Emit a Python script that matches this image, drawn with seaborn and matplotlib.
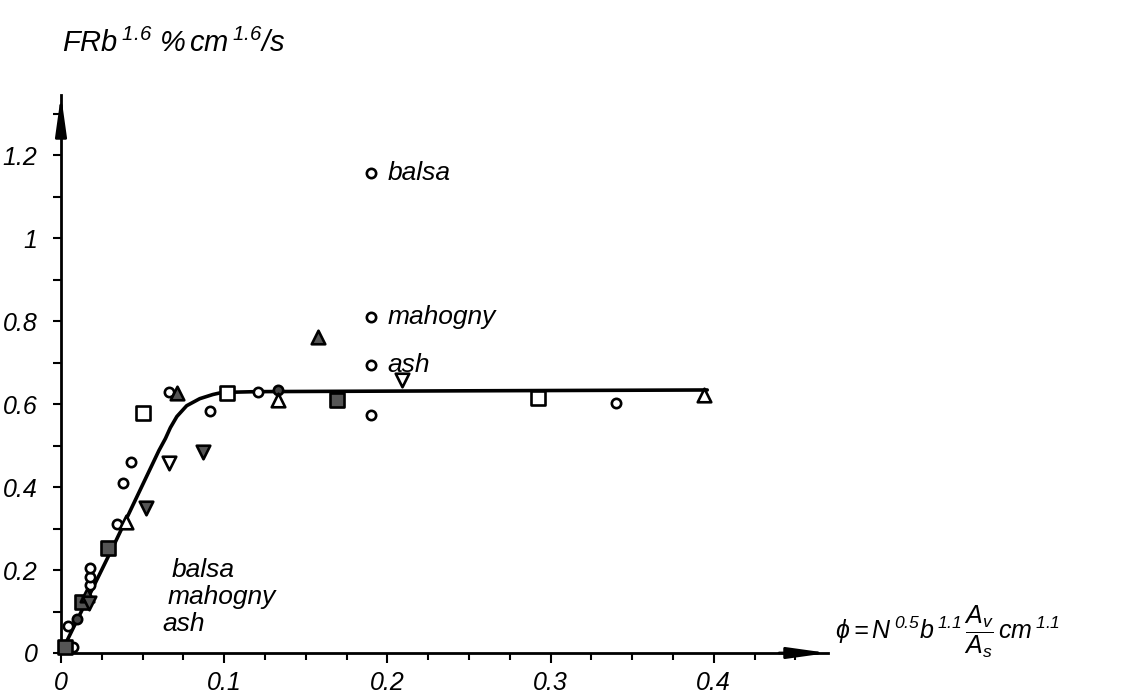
import numpy as np
import pandas as pd
import matplotlib
matplotlib.use("Agg")
import matplotlib.pyplot as plt
from matplotlib.patches import ArrowStyle
from matplotlib.ticker import MultipleLocator, FixedLocator
import seaborn as sns

# ---------------- data ----------------
open_circle_x = [0.0045, 0.0075, 0.018, 0.018, 0.018, 0.0345, 0.038, 0.043, 0.066,
                 0.091, 0.121, 0.19, 0.19, 0.19, 0.19, 0.34]
open_circle_y = [0.065, 0.015, 0.164, 0.183, 0.205, 0.312, 0.41, 0.461, 0.63,
                 0.583, 0.628, 1.158, 0.81, 0.694, 0.573, 0.602]
filled_circle_x = [0.0098, 0.133]
filled_circle_y = [0.082, 0.634]
open_square_x = [0.0505, 0.102, 0.292]
open_square_y = [0.578, 0.627, 0.614]
filled_square_x = [0.0025, 0.013, 0.029, 0.169]
filled_square_y = [0.015, 0.124, 0.252, 0.61]
open_tri_up_x = [0.040, 0.133, 0.394]
open_tri_up_y = [0.316, 0.61, 0.622]
filled_tri_up_x = [0.016, 0.071, 0.1576]
filled_tri_up_y = [0.14, 0.626, 0.761]
open_tri_down_x = [0.066, 0.209]
open_tri_down_y = [0.457, 0.658]
filled_tri_down_x = [0.017, 0.052, 0.087]
filled_tri_down_y = [0.12, 0.349, 0.485]

curve_x = [0.0, 0.033, 0.060, 0.064, 0.067, 0.071, 0.077, 0.085, 0.093, 0.0986, 0.12, 0.25, 0.396]
curve_y = [0.0, 0.265, 0.488, 0.517, 0.543, 0.570, 0.596, 0.613, 0.623, 0.628, 0.630, 0.632, 0.634]

x_ticks = [0, 0.1, 0.2, 0.3, 0.4]
x_tick_labels = ["0", "0.1", "0.2", "0.3", "0.4"]
y_ticks = [0, 0.2, 0.4, 0.6, 0.8, 1.0, 1.2]
y_tick_labels = ["0", "0.2", "0.4", "0.6", "0.8", "1", "1.2"]

point_labels = ["balsa", "mahogny", "ash"]
point_label_y = [1.158, 0.81, 0.694]
block_labels = ["balsa", "mahogny", "ash"]

# ---------------- styling ----------------
sns.set_theme(style="white")
plt.rcParams["font.family"] = ["Liberation Sans", "DejaVu Sans"]
plt.rcParams["mathtext.fontset"] = "custom"
plt.rcParams["mathtext.it"] = "Liberation Sans:italic"
plt.rcParams["mathtext.rm"] = "Liberation Sans:italic"
plt.rcParams["mathtext.bf"] = "Liberation Sans:bold"

W, H = 1129, 698
fig = plt.figure(figsize=(W / 100, H / 100), dpi=100)
ax = fig.add_axes([61 / W, 45 / H, (828 - 61) / W, (653 - 95) / H])
ax.set_xlim(0, 0.47)
ax.set_ylim(0, 1.345)

# curve
sns.lineplot(x=curve_x, y=curve_y, sort=False, color="black", linewidth=2.6, ax=ax,
             zorder=2)

groups = [
    (open_circle_x, open_circle_y, "o", "white", 45),
    (filled_circle_x, filled_circle_y, "o", "#444444", 45),
    (open_square_x, open_square_y, "s", "white", 115),
    (filled_square_x, filled_square_y, "s", "#555555", 105),
    (open_tri_up_x, open_tri_up_y, "^", "white", 95),
    (filled_tri_up_x, filled_tri_up_y, "^", "#555555", 95),
    (open_tri_down_x, open_tri_down_y, "v", "white", 95),
    (filled_tri_down_x, filled_tri_down_y, "v", "#555555", 95),
]
for gx, gy, m, fc, s in groups:
    df = pd.DataFrame({"x": gx, "y": gy})
    sns.scatterplot(data=df, x="x", y="y", marker=m, s=s, facecolor=fc,
                    edgecolor="black", linewidth=1.9, ax=ax, zorder=3, clip_on=False)

# axes
for sp in ["top", "right"]:
    ax.spines[sp].set_visible(False)
for sp in ["left", "bottom"]:
    ax.spines[sp].set_linewidth(2.0)
    ax.spines[sp].set_color("black")
ax.set_xlabel("")
ax.set_ylabel("")

ax.xaxis.set_major_locator(FixedLocator(x_ticks))
ax.set_xticklabels(x_tick_labels)
ax.xaxis.set_minor_locator(MultipleLocator(0.025))
ax.yaxis.set_major_locator(FixedLocator(y_ticks))
ax.set_yticklabels(y_tick_labels)
ax.yaxis.set_minor_locator(MultipleLocator(0.1))
ax.tick_params(axis="both", which="both", direction="out", color="black", width=1.5,
               bottom=True, left=True)
ax.tick_params(axis="x", which="major", length=7, pad=6)
ax.tick_params(axis="x", which="minor", length=5)
ax.tick_params(axis="y", which="major", length=6, pad=11)
ax.tick_params(axis="y", which="minor", length=6)
for lab in ax.get_xticklabels() + ax.get_yticklabels():
    lab.set_fontstyle("italic")
    lab.set_fontsize(18)
    lab.set_color("black")

# arrows at axis ends
arrow = ArrowStyle("-|>", head_length=2.0, head_width=0.28)
ax.annotate("", xy=(0.47, 0), xytext=(0.44, 0), xycoords="data",
            arrowprops=dict(arrowstyle=arrow, mutation_scale=12, color="black",
                            lw=2.0, shrinkA=0, shrinkB=0), annotation_clip=False)
ax.annotate("", xy=(0, 1.345), xytext=(0, 1.28), xycoords="data",
            arrowprops=dict(arrowstyle=arrow, mutation_scale=12, color="black",
                            lw=2.0, shrinkA=0, shrinkB=0), annotation_clip=False)

# point labels
for t, yy in zip(point_labels, point_label_y):
    ax.text(0.2, yy, t, fontsize=19, fontstyle="italic", ha="left", va="center",
            color="black")
for t, yy, xx in zip(block_labels, [0.20, 0.135, 0.07], [0.068, 0.065, 0.062]):
    ax.text(xx, yy, t, fontsize=19, fontstyle="italic", ha="left", va="center",
            color="black")

# axis titles
fig.text(62 / W, 1 - 43 / H, r"$FRb^{\,1.6}\ \%\,cm^{\,1.6}/s$", fontsize=21,
         ha="left", va="center", color="black")
fig.text(835 / W, 1 - 632 / H,
         r"$\phi = N^{\,0.5}b^{\,1.1}\,\dfrac{A_v}{A_s}\,cm^{\,1.1}$", fontsize=18,
         ha="left", va="center", color="black")

fig.savefig("out.png", dpi=100)
